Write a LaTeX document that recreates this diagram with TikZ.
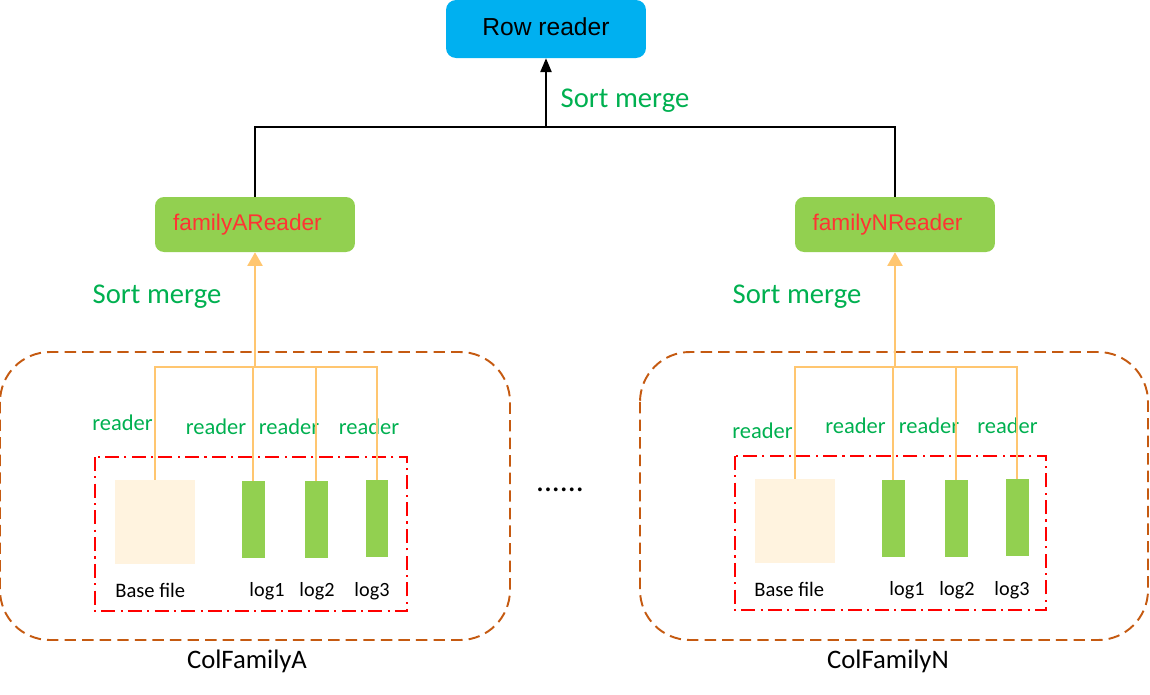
\documentclass[tikz,border=0pt]{standalone}
\usepackage{fontspec}
\setmainfont{Carlito}
\newfontfamily\arialfont{Liberation Sans}
\usepackage{xcolor}
\usepackage{tikz}
\usetikzlibrary{arrows, backgrounds}
\definecolor{rowblue}{HTML}{00B0F0}
\definecolor{leafgreen}{HTML}{92D050}
\definecolor{textgreen}{HTML}{00B050}
\definecolor{famred}{HTML}{FF3333}
\definecolor{basecream}{HTML}{FFF3DF}
\definecolor{feedorange}{HTML}{FFC670}
\definecolor{boxbrown}{HTML}{C55A11}
\tikzstyle{rowbox} = [rectangle, fill=rowblue, minimum width=4cm, minimum height=1.16cm, rounded corners=0.2cm, inner sep=0pt, font=\arialfont\fontsize{14}{16}\selectfont]
\tikzstyle{readerbox} = [rectangle, fill=leafgreen, minimum width=4cm, minimum height=1.1cm, rounded corners=0.18cm, inner sep=0pt, text=famred, font=\arialfont\fontsize{12.9}{15}\selectfont]
\tikzstyle{basebox} = [rectangle, fill=basecream, inner sep=0pt]
\tikzstyle{logbox} = [rectangle, fill=leafgreen, inner sep=0pt, minimum width=0.46cm, minimum height=1.54cm]
\tikzstyle{famgroup} = [draw=boxbrown, line width=1.1pt, dash pattern=on 6.5pt off 3.5pt, rounded corners=1cm]
\tikzstyle{filegroup} = [draw=red, line width=1.1pt, dash pattern=on 8pt off 3pt on 1.2pt off 3pt]
\tikzstyle{arrow} = [->, thick, >=triangle 45]
\tikzstyle{feed} = [feedorange, line width=1.1pt]
\tikzstyle{greenlabel} = [text=textgreen, inner sep=0pt]

\begin{document}
\begin{tikzpicture}[x=0.02cm, y=-0.02cm]
    \useasboundingbox (0,0) rectangle (1150,694);

        % nodes
        \node (rowreader) [rowbox] at (546,29) {\raisebox{0.08cm}{Row reader}};
        \node (familyA) [readerbox] at (255,224.5) {\hspace*{-0.3cm}\raisebox{0.05cm}{familyAReader}};
        \node (familyN) [readerbox] at (895,224.5) {\hspace*{-0.3cm}\raisebox{0.05cm}{familyNReader}};
        \coordinate (top) at (546,127);
        \coordinate (jA) at (255,367);
        \coordinate (jN) at (895,367);

        \node (baseA) [basebox, minimum width=1.6cm, minimum height=1.68cm] at (155,522) {};
        \node (log1A) [logbox] at (253,519.5) {};
        \node (log2A) [logbox] at (316,519.5) {};
        \node (log3A) [logbox, minimum width=0.44cm] at (377,518.5) {};
        \node (baseN) [basebox, minimum width=1.62cm, minimum height=1.68cm] at (795,521) {};
        \node (log1N) [logbox] at (893,518.5) {};
        \node (log2N) [logbox] at (956,518.5) {};
        \node (log3N) [logbox] at (1017,517.5) {};

        % groups
        \draw [famgroup] (0,352) rectangle (510,640);
        \draw [famgroup] (640,352) rectangle (1148,640);
        \draw [filegroup] (95,457) rectangle (407,611);
        \draw [filegroup] (735,456) rectangle (1046,610);

        % labels
        \node (sortTop) [greenlabel, font=\fontsize{16.3}{18}\selectfont] at (625,101) {Sort merge};
        \node (sortA) [greenlabel, font=\fontsize{16.3}{18}\selectfont] at (157,297) {Sort merge};
        \node (sortN) [greenlabel, font=\fontsize{16.3}{18}\selectfont] at (797,297) {Sort merge};
        \node (rdA0) [greenlabel, font=\fontsize{12.8}{14}\selectfont] at (122.5,423) {reader};
        \node (rdA1) [greenlabel, font=\fontsize{12.8}{14}\selectfont] at (216,427) {reader};
        \node (rdA2) [greenlabel, font=\fontsize{12.8}{14}\selectfont] at (289,427) {reader};
        \node (rdA3) [greenlabel, font=\fontsize{12.8}{14}\selectfont] at (369,427) {reader};
        \node (rdN0) [greenlabel, font=\fontsize{12.8}{14}\selectfont] at (762.5,431) {reader};
        \node (rdN1) [greenlabel, font=\fontsize{12.8}{14}\selectfont] at (855.5,426) {reader};
        \node (rdN2) [greenlabel, font=\fontsize{12.8}{14}\selectfont] at (929,426) {reader};
        \node (rdN3) [greenlabel, font=\fontsize{12.8}{14}\selectfont] at (1007.5,426) {reader};
        \node (baseAlabel) [anchor=west, inner sep=0pt, font=\fontsize{11.7}{13}\selectfont] at (115,590) {Base file};
        \node (baseNlabel) [anchor=west, inner sep=0pt, font=\fontsize{11.7}{13}\selectfont] at (754,589) {Base file};
        \node (log1Alabel) [inner sep=0pt, font=\fontsize{11.5}{13}\selectfont] at (267,591) {log1};
        \node (log2Alabel) [inner sep=0pt, font=\fontsize{11.5}{13}\selectfont] at (317,591) {log2};
        \node (log3Alabel) [inner sep=0pt, font=\fontsize{11.5}{13}\selectfont] at (372,591) {log3};
        \node (log1Nlabel) [inner sep=0pt, font=\fontsize{11.5}{13}\selectfont] at (907,590) {log1};
        \node (log2Nlabel) [inner sep=0pt, font=\fontsize{11.5}{13}\selectfont] at (957,590) {log2};
        \node (log3Nlabel) [inner sep=0pt, font=\fontsize{11.5}{13}\selectfont] at (1012,590) {log3};
        \node (colA) [inner sep=0pt, font=\fontsize{15.2}{17}\selectfont] at (247,661) {ColFamilyA};
        \node (colN) [inner sep=0pt, font=\fontsize{15.2}{17}\selectfont] at (888,661) {ColFamilyN};
        \node (more) [inner sep=0pt, font=\fontsize{18}{20}\selectfont] at (560,490) {......};

        % edges
        \draw [thick] (familyA.north) |- (top) -| (familyN.north);
        \draw [arrow] (top) -- (rowreader);
        \draw [feed] (baseA.north) |- (jA) -| (log3A.north);
        \draw [feed] (log1A.north) -- (log1A.north |- jA);
        \draw [feed] (log2A.north) -- (log2A.north |- jA);
        \draw [feed] (baseN.north) |- (jN) -| (log3N.north);
        \draw [feed] (log1N.north) -- (log1N.north |- jN);
        \draw [feed] (log2N.north) -- (log2N.north |- jN);
        \draw [arrow, feedorange, line width=1.1pt, >=triangle 60] (jA) -- (familyA);
        \draw [arrow, feedorange, line width=1.1pt, >=triangle 60] (jN) -- (familyN);

\end{tikzpicture}
\end{document}
